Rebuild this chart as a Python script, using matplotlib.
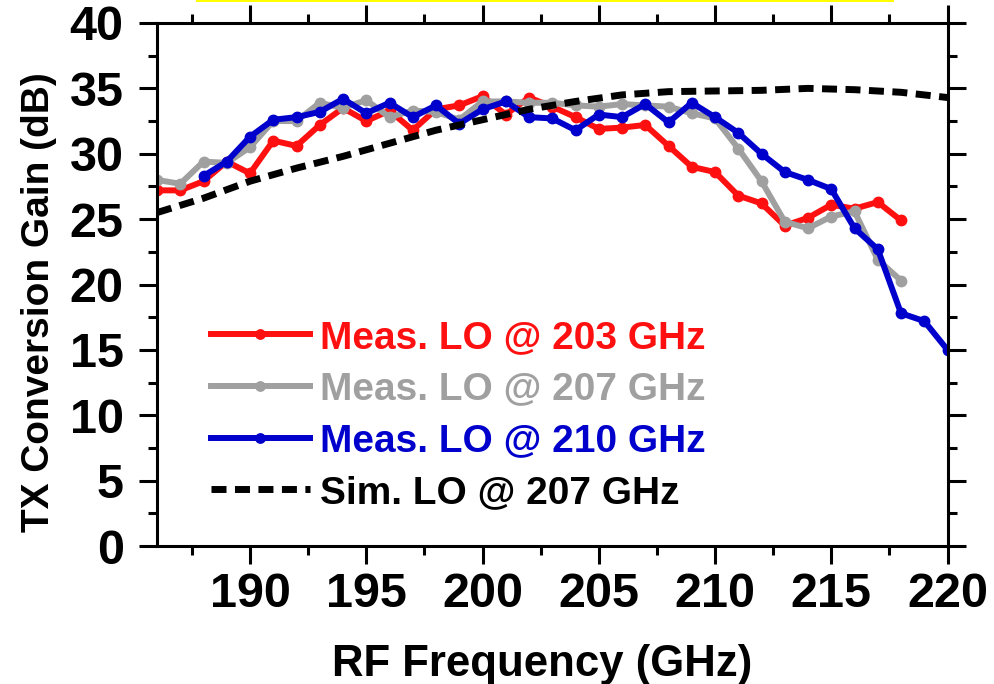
import matplotlib
matplotlib.use("Agg")
import matplotlib.pyplot as plt
from matplotlib.patches import Rectangle
from matplotlib.ticker import MultipleLocator

plt.rcParams['font.family'] = ['Liberation Sans', 'DejaVu Sans']
plt.rcParams['font.weight'] = 'bold'

# ---- data ----
freq_lo203 = list(range(186, 219))
gain_lo203 = [27.2, 27.2, 27.9, 29.4, 28.5, 31.0, 30.6, 32.2, 33.5, 32.5, 33.3,
              31.8, 33.4, 33.7, 34.4, 33.0, 34.3, 33.6, 32.8, 31.9, 32.0, 32.2,
              30.6, 29.0, 28.6, 26.8, 26.2, 24.5, 25.1, 26.1, 25.8, 26.3, 24.9]

freq_lo207 = list(range(186, 219))
gain_lo207 = [28.0, 27.7, 29.4, 29.3, 30.5, 32.5, 32.5, 33.9, 33.5, 34.1, 32.8,
              33.3, 33.2, 32.6, 34.0, 34.0, 33.9, 33.9, 33.7, 33.6, 33.8, 33.7,
              33.6, 33.1, 32.7, 30.4, 27.9, 24.8, 24.3, 25.2, 25.6, 21.9, 20.3]

freq_lo210 = list(range(188, 221))
gain_lo210 = [28.3, 29.4, 31.3, 32.6, 32.8, 33.2, 34.2, 33.1, 33.9, 32.8, 33.7,
              32.3, 33.4, 34.0, 32.8, 32.7, 31.8, 33.0, 32.8, 33.8, 32.4, 33.9,
              32.8, 31.6, 30.0, 28.6, 28.0, 27.3, 24.3, 22.7, 17.8, 17.2, 15.0]

freq_sim = [186, 188, 190, 192, 194, 196, 198, 200, 202, 204, 206, 208, 210,
            212, 214, 216, 218, 220]
gain_sim = [25.5, 26.6, 27.9, 28.9, 29.8, 30.8, 31.8, 32.6, 33.4, 34.0, 34.5,
            34.75, 34.8, 34.85, 35.0, 34.9, 34.7, 34.3]

labels = ["Meas. LO @ 203 GHz", "Meas. LO @ 207 GHz", "Meas. LO @ 210 GHz",
          "Sim. LO @ 207 GHz"]
xticks = [190, 195, 200, 205, 210, 215, 220]
yticks = [0, 5, 10, 15, 20, 25, 30, 35, 40]

# ---- figure ----
W, H = 994, 684
fig = plt.figure(figsize=(W / 100, H / 100), dpi=100)
ax = fig.add_axes([157 / W, 1 - 546 / H, (947.5 - 157) / W, (546 - 23) / H])

lw = 4.3
ms = 7.5
ax.plot(freq_lo203, gain_lo203, '-o', color='#FF1010', lw=lw, ms=ms, label=labels[0])
ax.plot(freq_lo207, gain_lo207, '-o', color='#A0A0A0', lw=lw, ms=ms, label=labels[1])
ax.plot(freq_lo210, gain_lo210, '-o', color='#0000CC', lw=lw, ms=ms, label=labels[2])
ax.plot(freq_sim, gain_sim, '--', color='black', lw=5, dashes=(2.16, 1.22), label=labels[3])

ax.set_xlim(186, 220)
ax.set_ylim(0, 40)
ax.set_xticks(xticks)
ax.set_yticks(yticks)
ax.xaxis.set_minor_locator(MultipleLocator(2.5))
ax.yaxis.set_minor_locator(MultipleLocator(2.5))

for s in ax.spines.values():
    s.set_linewidth(2.2)
ax.tick_params(which='both', direction='out', top=True, right=True, width=2.2)
ax.tick_params(which='major', length=13)
ax.tick_params(which='minor', length=6.5)
ax.tick_params(axis='x', labelsize=35, pad=6)
ax.tick_params(axis='y', labelsize=35, pad=11)
for t in ax.get_xticklabels() + ax.get_yticklabels():
    t.set_fontweight('bold')

ax.set_xlabel("RF Frequency (GHz)", fontsize=31.5, fontweight='bold')
ax.xaxis.set_label_coords((542 - 157) / 790.5, -(676 - 546) / 523)
ax.xaxis.label.set_va('baseline')
ax.set_ylabel("TX Conversion Gain (dB)", fontsize=28, fontweight='bold')
ax.yaxis.set_label_coords(-0.127, 0.467)

leg = ax.legend(loc='upper left', bbox_to_anchor=(0.068, 0.432), frameon=False,
                prop={'weight': 'bold', 'size': 28},
                handlelength=2.55, handletextpad=0.26, labelspacing=0.4,
                markerscale=0.9, borderaxespad=0, borderpad=0,
                labelcolor='linecolor')

fig.add_artist(Rectangle((196 / W, 1 - 2 / H), (894 - 196) / W, 2 / H,
                         transform=fig.transFigure, color='#FFFF00', lw=0))

fig.savefig("out.png", dpi=100)
